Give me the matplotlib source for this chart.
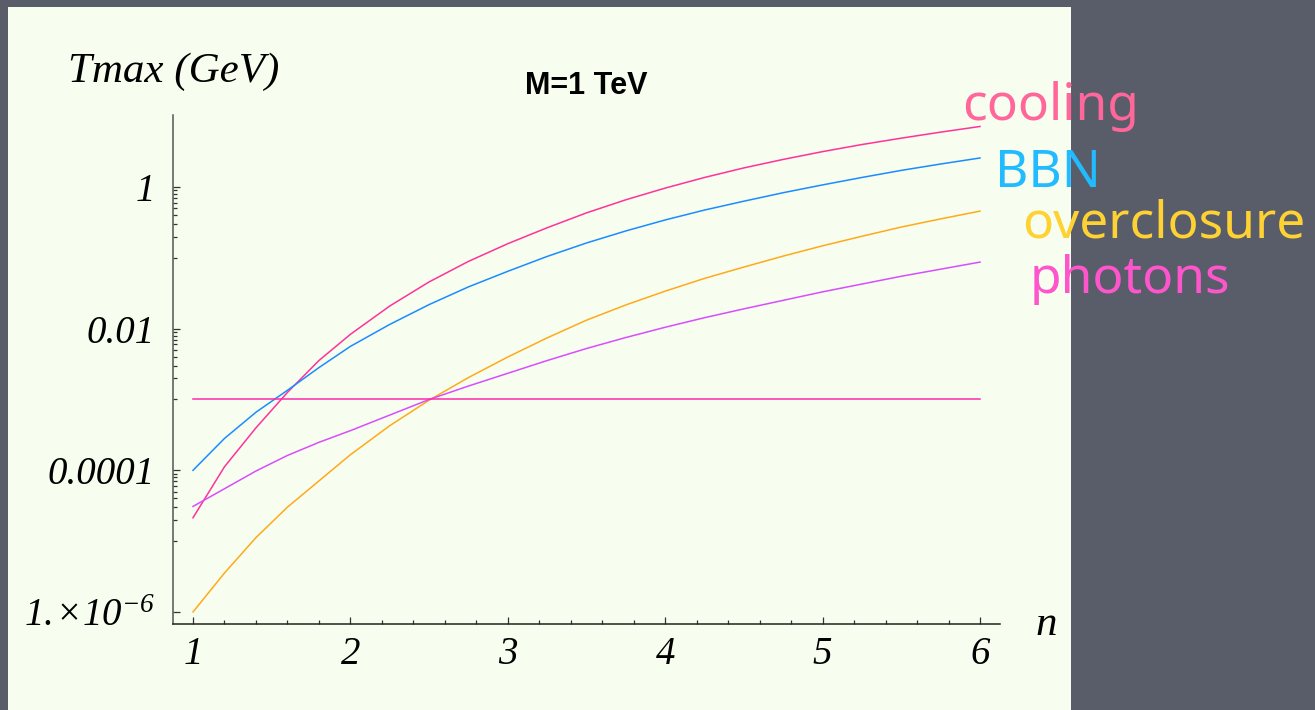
import numpy as np
import matplotlib.pyplot as plt
from matplotlib.patches import Rectangle

# n values
n = [1.0, 1.2, 1.4, 1.6, 1.8, 2.0, 2.25, 2.5, 2.75, 3.0, 3.25, 3.5, 3.75,
     4.0, 4.25, 4.5, 4.75, 5.0, 5.25, 5.5, 5.75, 6.0]

# log10 of Tmax (GeV)
log_cooling = [-4.67, -3.95, -3.40, -2.90, -2.45, -2.08, -1.68, -1.34, -1.05, -0.80, -0.575,
               -0.365, -0.18, -0.015, 0.135, 0.27, 0.39, 0.50, 0.60, 0.69, 0.775, 0.855]
log_bbn = [-4.00, -3.55, -3.18, -2.87, -2.55, -2.25, -1.94, -1.66, -1.41, -1.19, -0.98,
           -0.79, -0.62, -0.465, -0.325, -0.20, -0.08, 0.03, 0.135, 0.235, 0.325, 0.41]
log_overclosure = [-6.00, -5.45, -4.95, -4.52, -4.15, -3.78, -3.37, -3.01, -2.69, -2.40, -2.13,
                   -1.88, -1.665, -1.47, -1.29, -1.13, -0.975, -0.83, -0.695, -0.565, -0.45, -0.34]
log_photons = [-4.51, -4.26, -4.01, -3.79, -3.605, -3.44, -3.22, -3.00, -2.81, -2.63, -2.45,
               -2.28, -2.125, -1.98, -1.845, -1.72, -1.60, -1.48, -1.37, -1.26, -1.16, -1.06]
t_line = 1e-3  # flat line

xtick_vals = [1, 2, 3, 4, 5, 6]
xtick_labels = ['1', '2', '3', '4', '5', '6']
ytick_vals = [1e-6, 1e-4, 1e-2, 1]
ytick_labels = [r'$\mathit{1.}\!\!\times\!\mathit{10}^{-6}$', '0.0001', '0.01', '1']

plt.rcParams['mathtext.fontset'] = 'custom'
plt.rcParams['mathtext.rm'] = 'Liberation Serif:italic'
plt.rcParams['mathtext.it'] = 'Liberation Serif:italic'

W, H = 1315, 710
fig = plt.figure(figsize=(W / 100, H / 100), dpi=100)
fig.patch.set_facecolor('#595d6a')
fig.patches.append(Rectangle((8 / W, 0), (1071 - 8) / W, (H - 7) / H, transform=fig.transFigure,
                             facecolor='#f7fdef', edgecolor='none', zorder=-10))

ax = fig.add_axes([173 / W, 86 / H, (1000 - 173) / W, (624 - 115) / H])
ax.set_facecolor('none')
ax.set_yscale('log')

ax.plot(n, 10 ** np.array(log_cooling), color='#ff3399', lw=1.1)
ax.plot(n, 10 ** np.array(log_bbn), color='#1a8cff', lw=1.1)
ax.plot(n, 10 ** np.array(log_overclosure), color='#ffaa1a', lw=1.1)
ax.plot(n, 10 ** np.array(log_photons), color='#d94dff', lw=1.1)
ax.plot([n[0], n[-1]], [t_line, t_line], color='#ff2aa8', lw=1.1)

ax.set_xlim(1 - 20 / 157.4, 6 + 20 / 157.4)
ax.set_ylim(10 ** -6.17, 10 ** 1.017)

for s in ['top', 'right']:
    ax.spines[s].set_visible(False)
ax.spines['left'].set_color('#555555')
ax.spines['bottom'].set_color('#222222')
ax.spines['left'].set_linewidth(1.1)
ax.spines['bottom'].set_linewidth(1.1)

ax.set_xticks(xtick_vals)
ax.set_xticklabels(xtick_labels)
ax.set_xticks([v for v in np.arange(1.2, 6.0, 0.2) if abs(v - round(v)) > 0.05], minor=True)
ax.set_yticks(ytick_vals)
ax.set_yticklabels(ytick_labels)
ax.set_yticks([k * 10.0 ** e for e in (-5, -3, -1) for k in range(1, 10)], minor=True)
ax.yaxis.set_minor_formatter(plt.NullFormatter())

ax.tick_params(which='both', direction='in', color='#333333', width=0.9)
ax.tick_params(which='major', length=5)
ax.tick_params(which='minor', length=3)
ax.tick_params(axis='x', pad=9)
ax.tick_params(axis='y', pad=13)
for lab in ax.get_xticklabels() + ax.get_yticklabels():
    lab.set_fontfamily('Liberation Serif')
    lab.set_fontstyle('italic')
    lab.set_fontsize(28)

fig.text(68 / W, 1 - 82 / H, 'Tmax (GeV)', family='Liberation Serif', style='italic',
         fontsize=31, va='baseline', ha='left')
fig.text(1035 / W, 1 - 635 / H, 'n', family='Liberation Serif', style='italic',
         fontsize=31, va='baseline', ha='left')
fig.text(586 / W, 1 - 94 / H, 'M=1 TeV', family='Liberation Sans', weight='bold',
         fontsize=22, va='baseline', ha='center')

labels = [('cooling', 962, 120, '#ff6699'), ('BBN', 995, 187, '#22bbff'),
          ('overclosure', 1022, 237, '#ffd233'), ('photons', 1030, 293, '#ff55cc')]
for txt, x, y, c in labels:
    fig.text(x / W, 1 - y / H, txt, family='Noto Sans', fontsize=37, color=c,
             weight='medium', va='baseline', ha='left')

fig.savefig('out.png', dpi=100, facecolor=fig.get_facecolor())
